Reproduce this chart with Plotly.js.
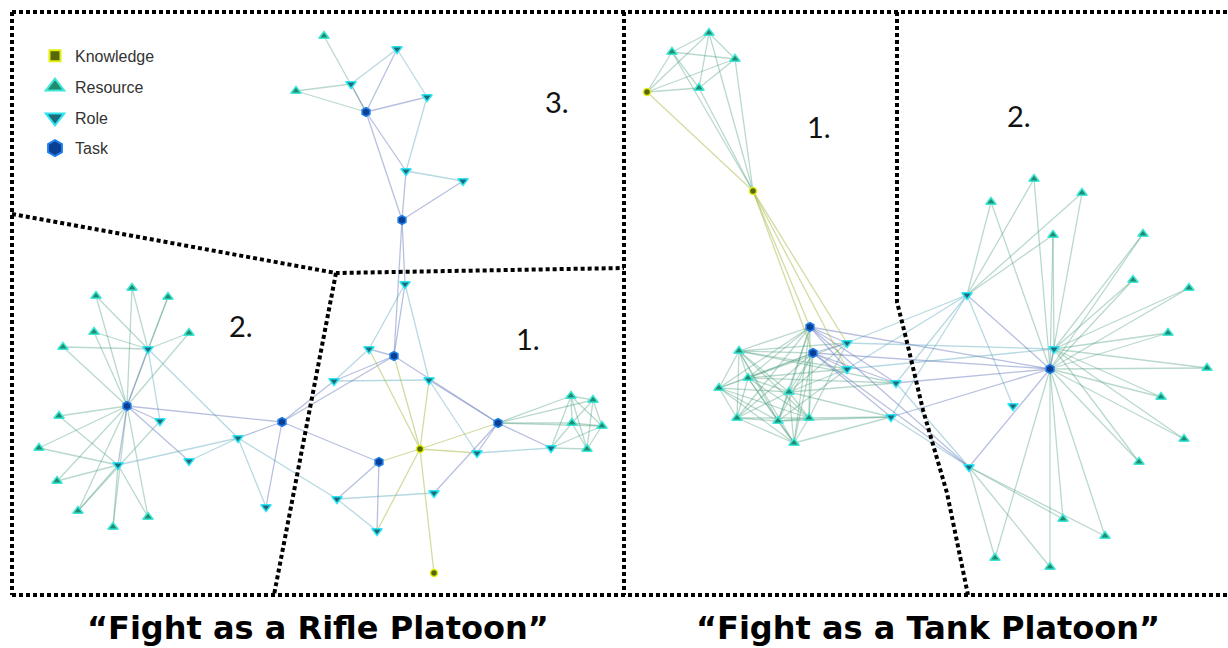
<!DOCTYPE html>
<html>
<head>
<meta charset="utf-8">
<script src="https://cdn.plot.ly/plotly-3.0.1.min.js"></script>
<style>html,body{margin:0;padding:0;background:#fff}#chart{width:1228px;height:648px}</style>
</head>
<body>
<div id="chart"></div>
<script>
// ---- node data (positions) ----
const nodeIds = [
 'A1','A2','A3','A4','A5','A6','A7','A8','A9',
 'B1','B2','B3','B4','B5','B6','B7','B8','B9','B10','B11','B12','B13','B14','B15','B16','B17','B18','B19',
 'C1','C2','C3','C4','C5','C6','C7','C8','C9','C10','C11','C12','C13','C14','C15','C16','C17','C18','C19','C20',
 'D1','D2','D3','D4','D5','D6','D7','D8','D9','D10','D11','D12','D13','D14','D15','D16','D17','D18','D19','D20',
 'E1','E2','E3','E4','E5','E6','E7','E8','E9','E10','E11','E12','E13','E14','E15','E16','E17','E18','E19','E20','E21'
];
const nodeType = [
 'Resource','Role','Role','Resource','Role','Task','Role','Role','Task',
 'Role','Role','Task','Role','Role','Task','Resource','Resource','Resource','Resource','Resource','Role','Knowledge','Role','Task','Role','Role','Role','Knowledge',
 'Resource','Resource','Resource','Resource','Resource','Resource','Role','Task','Resource','Role','Task','Role','Resource','Role','Role','Resource','Resource','Resource','Resource','Role',
 'Resource','Resource','Resource','Resource','Knowledge','Knowledge','Task','Task','Role','Role','Role','Role','Resource','Resource','Resource','Resource','Resource','Resource','Resource','Resource',
 'Resource','Resource','Resource','Resource','Resource','Resource','Resource','Role','Resource','Role','Task','Resource','Resource','Role','Resource','Resource','Role','Resource','Resource','Resource','Resource'
];
const nodeX = [
 324,397,351,296,427,366,406,463,402,
 405,369,394,334,429,498,571,593,572,602,587,551,420,477,379,337,434,377,434,
 96,132,168,94,189,63,148,127,59,160,282,238,39,189,118,57,78,148,113,266,
 709,672,735,699,647,753,810,813,847,847,896,891,739,748,719,789,737,778,809,794,
 1034,1082,991,1053,1143,1133,1189,967,1168,1054,1050,1207,1161,1013,1184,1139,969,1063,1105,995,1050
];
const nodeY = [
 36,49,84,91,97,112,171,181,220,
 284,349,356,381,380,423,396,400,423,426,449,448,449,453,462,499,493,531,573,
 296,288,297,332,333,347,349,406,416,421,422,438,448,461,465,481,511,517,527,507,
 33,52,59,88,92,191,327,353,343,369,383,417,351,378,388,392,418,421,418,443,
 179,193,202,235,234,280,288,295,333,349,369,368,397,406,439,462,467,519,536,558,567
];

// ---- links ----
const linkList = [
 'A1-A6','A2-A3','A2-A6','A2-A5','A4-A3','A4-A6','A3-A6','A6-A5','A6-A7','A6-A9','A5-A7','A7-A8','A7-A9','A9-A8','A9-B1','A9-B3',
 'B1-B2','B1-B3','B1-B5','B2-B3','B2-B4','B3-B4','B4-B5','B3-B6','B5-B6','B5-B14','B5-B13','B13-B2','B13-B3','B13-B6','B13-B14',
 'B13-B15','B13-B18','B13-B19','B6-B14','B6-B17','B6-B12','B14-B12','B15-B16','B15-B18','B16-B17','B16-B18',
 'C11-B3','C11-B4','C11-B15','C12-B16',
 'C8-C7','C8-C10','C8-C14','C8-C15','C8-C11','C7-C12','C15-C12','C14-C12','C12-C11','C12-C20','C11-C20','C10-C17','C7-C10',
 'D5-D6','D6-D7','D6-D8','D6-D9','D6-D10',
 'D7-D9','D7-D10','D8-D9','D8-D10','D8-D11','D7-D11','D8-D12',
 'D7-E11','D8-E11','D9-E10','D10-E10','D9-E8','D11-E8','D12-E8','D10-E8','D11-E11','D12-E11','D7-E17','D8-E17','D11-E17','D12-E17',
 'E10-E11'
];
const hubs = ['B6','B12','C7','C8','C15','D5','D6','D7','D8','D9','D10','D11','D12','E8','E11','E10','E17'];
const hubSpokes = [
 ['B7','B8','B9','B10'],
 ['B7','B9','B10','B11'],
 ['C1','C2','C3','C4','C5','C6'],
 ['C1','C2','C3','C4','C5','C6','C9','C13','C16','C17','C18','C19'],
 ['C9','C13','C16','C17','C18','C19'],
 ['D1','D2','D3','D4'],
 ['D1','D2','D3','D4'],
 ['D13','D14','D15','D16','D17','D18','D19','D20'],
 ['D13','D14','D15','D16','D17','D18','D19','D20'],
 ['D13','D14','D16','D19'],
 ['D13','D14','D16','D18'],
 ['D13','D14','D16'],
 ['D16','D18','D19','D20'],
 ['E1','E2','E3','E4','E11','E14'],
 ['E1','E2','E3','E4','E5','E6','E7','E9','E12','E13','E15','E16','E17','E18','E19','E20','E21'],
 ['E4','E5','E6','E7','E9','E12','E13','E15','E16'],
 ['E18','E19','E20','E21']
];
const cliques = [
 ['B7','B8','B9','B10','B11'],
 ['D1','D2','D3','D4'],
 ['D13','D14','D15','D16','D17','D18','D19','D20']
];

// ---- titles / labels ----
const panelTitles = ['\u201CFight as a Rifle Platoon\u201D', '\u201CFight as a Tank Platoon\u201D'];
const regionLabels = ['3.', '2.', '1.', '1.', '2.'];
const typeOrder = ['Knowledge','Resource','Role','Task'];

// ---- build ----
const idx = {}; nodeIds.forEach((id,i)=>idx[id]=i);
const pairs = [];
linkList.forEach(s=>{const p=s.split('-'); pairs.push([p[0],p[1]]);});
hubs.forEach((h,k)=>hubSpokes[k].forEach(s=>pairs.push([h,s])));
cliques.forEach(c=>{for(let i=0;i<c.length;i++)for(let j=i+1;j<c.length;j++)pairs.push([c[i],c[j]]);});

function cat(a,b){
  const ta=nodeType[idx[a]], tb=nodeType[idx[b]];
  if(ta==='Resource'||tb==='Resource') return 'res';
  if(ta==='Knowledge'||tb==='Knowledge') return 'know';
  if(ta==='Task'||tb==='Task') return 'task';
  return 'role';
}
const edgeColors = {res:'rgba(70,155,120,0.38)', know:'rgba(165,185,70,0.5)', task:'rgba(95,115,185,0.45)', role:'rgba(95,170,190,0.45)'};
const groups = {res:{x:[],y:[]},know:{x:[],y:[]},task:{x:[],y:[]},role:{x:[],y:[]}};
pairs.forEach(([a,b])=>{
  const g=groups[cat(a,b)], i=idx[a], j=idx[b];
  g.x.push(nodeX[i],nodeX[j],null); g.y.push(nodeY[i],nodeY[j],null);
});
const traces = [];
['res','role','task','know'].forEach(k=>traces.push({
  type:'scatter', mode:'lines', x:groups[k].x, y:groups[k].y, hoverinfo:'skip', showlegend:false,
  line:{color:edgeColors[k], width:1.3}
}));
const style = {
  Knowledge:{symbol:'circle', legendSymbol:'square', legendSize:11, size:7, color:'#56680a', line:'#e2ee10'},
  Resource:{symbol:'triangle-up', legendSymbol:'triangle-up', legendSize:16, size:9, color:'#1f8c6c', line:'#3ee6d8'},
  Role:{symbol:'triangle-down', legendSymbol:'triangle-down', legendSize:16, size:9, color:'#1b6c78', line:'#2ee4f2'},
  Task:{symbol:'hexagon', legendSymbol:'hexagon', legendSize:16, size:9, color:'#0b3f94', line:'#1f7fe8'}
};
typeOrder.forEach((t,k)=>{
  const xs=[],ys=[];
  nodeType.forEach((nt,i)=>{if(nt===t){xs.push(nodeX[i]);ys.push(nodeY[i]);}});
  traces.push({type:'scatter', mode:'markers', name:t, x:xs, y:ys, showlegend:false,
    marker:{symbol:style[t].symbol, size:style[t].size, color:style[t].color, line:{color:style[t].line, width:1.5}},
    hoverinfo:'name'});
});
// legend entries (no data points of their own)
typeOrder.forEach((t,k)=>{
  traces.push({type:'scatter', mode:'markers', name:t, x:[null], y:[null], legendgroup:'g'+k, showlegend:true,
    marker:{symbol:style[t].legendSymbol, size:style[t].legendSize, color:style[t].color, line:{color:style[t].line, width:2}}});
});

const dotLine = {color:'#000', width:4, dash:'4px,3px'};
const shapes = [
  {type:'path', path:'M12,12 L1228,12', line:dotLine},
  {type:'path', path:'M12,12 L12,595', line:dotLine},
  {type:'path', path:'M12,595 L1228,595', line:dotLine},
  {type:'path', path:'M624,12 L624,595', line:dotLine},
  {type:'path', path:'M12,214 L336,273 L624,268', line:dotLine},
  {type:'path', path:'M336,273 L274,595', line:dotLine},
  {type:'path', path:'M897,12 L897,302 L906,338 L923,410 L947,493 L968,595', line:dotLine}
];
const labelPos = [[557,101],[241,325],[528,338],[819,126],[1019,115]];
const annotations = regionLabels.map((t,i)=>({x:labelPos[i][0], y:labelPos[i][1], text:t, showarrow:false,
  font:{family:'Lato, Carlito, sans-serif', size:29, color:'#111'}}));
[[318,628],[928,628]].forEach((p,i)=>annotations.push({x:p[0], y:p[1], text:panelTitles[i], showarrow:false,
  font:{family:'"DejaVu Sans", "Liberation Sans", Arial, sans-serif', size:32, color:'#000', weight:700}}));

const layout = {
  width:1228, height:648, margin:{l:0,r:0,t:0,b:0}, paper_bgcolor:'#fff', plot_bgcolor:'#fff',
  xaxis:{range:[0,1228], visible:false, fixedrange:true},
  yaxis:{range:[648,0], visible:false, fixedrange:true},
  shapes:shapes, annotations:annotations,
  showlegend:true,
  legend:{x:0.0285, y:0.94, xanchor:'left', yanchor:'top', bgcolor:'rgba(0,0,0,0)', tracegroupgap:7,
    itemsizing:'trace', font:{family:'"Liberation Sans", Arial, sans-serif', size:16, color:'#333'}}
};
Plotly.newPlot('chart', traces, layout, {displayModeBar:false, staticPlot:true});
</script>
</body>
</html>
